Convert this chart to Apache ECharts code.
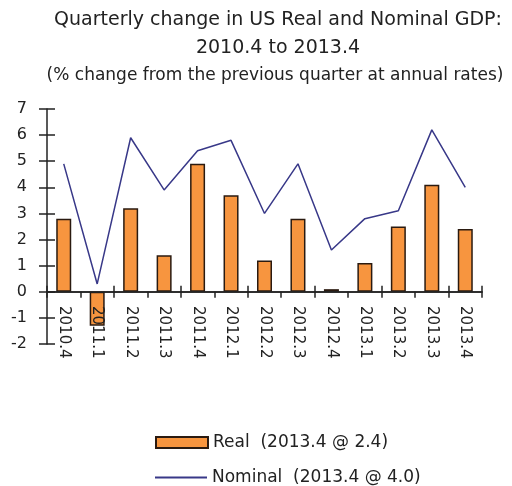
<!DOCTYPE html>
<html>
<head>
<meta charset="utf-8">
<script src="https://cdn.jsdelivr.net/npm/echarts@6/dist/echarts.min.js"></script>
<style>
  html, body { margin: 0; padding: 0; background: #fff; }
  #chart { width: 512px; height: 486px; }
</style>
</head>
<body>
<div id="chart"></div>
<script>
// Quarter labels
const quarters = ['2010.4', '2011.1', '2011.2', '2011.3', '2011.4', '2012.1', '2012.2',
                  '2012.3', '2012.4', '2013.1', '2013.2', '2013.3', '2013.4'];
// Real GDP, % change at annual rate
const realGdp = [2.8, -1.3, 3.2, 1.4, 4.9, 3.7, 1.2, 2.8, 0.1, 1.1, 2.5, 4.1, 2.4];
// Nominal GDP, % change at annual rate
const nominalGdp = [4.9, 0.3, 5.9, 3.9, 5.4, 5.8, 3.0, 4.9, 1.6, 2.8, 3.1, 6.2, 4.0];

const realName = 'Real  (2013.4 @ 2.4)';
const nominalName = 'Nominal  (2013.4 @ 4.0)';

const font = 'DejaVu Sans';
const axisColor = '#222';
const textColor = '#222';
const lineColor = '#383888';

const chart = echarts.init(document.getElementById('chart'), null, { renderer: 'canvas' });

const titleStyle = size => ({ fontFamily: font, fontSize: size, fontWeight: 'normal', color: textColor });

chart.setOption({
  backgroundColor: '#fff',
  animation: false,
  title: [
    { text: 'Quarterly change in US Real and Nominal GDP:', left: 278, top: 11, textAlign: 'center', padding: 0, textStyle: titleStyle(19) },
    { text: '2010.4 to 2013.4', left: 278, top: 39, textAlign: 'center', padding: 0, textStyle: titleStyle(19) },
    { text: '(% change from the previous quarter at annual rates)', left: 275, top: 67, textAlign: 'center', padding: 0, textStyle: titleStyle(17) }
  ],
  legend: [
    {
      left: 155, top: 434, padding: 0,
      itemWidth: 52, itemHeight: 11,
      textStyle: { fontFamily: font, fontSize: 17, color: textColor },
      data: [{ name: realName, icon: 'rect' }]
    },
    {
      left: 155, top: 469, padding: 0,
      itemWidth: 52, itemHeight: 2,
      textStyle: { fontFamily: font, fontSize: 17, color: textColor },
      data: [{ name: nominalName, icon: 'rect', itemStyle: { color: lineColor, borderWidth: 0 } }]
    }
  ],
  grid: { left: 47, right: 30, top: 109, bottom: 142, containLabel: false },
  xAxis: [
    {
      type: 'category', data: quarters, z: 10,
      axisLine: { onZero: true, lineStyle: { color: axisColor, width: 1.5 } },
      axisTick: { show: true, length: 6, lineStyle: { color: axisColor, width: 1.5 } },
      axisLabel: { rotate: -90, margin: -38, fontFamily: font, fontSize: 15, color: textColor },
      splitLine: { show: false }
    },
    {
      type: 'category', data: quarters, position: 'bottom', z: 10,
      axisLine: { onZero: true, lineStyle: { color: axisColor, width: 1.5 } },
      axisTick: { show: true, inside: true, length: 6, lineStyle: { color: axisColor, width: 1.5 } },
      axisLabel: { show: false },
      splitLine: { show: false }
    }
  ],
  yAxis: [
    {
      type: 'value', min: -2, max: 7, interval: 1,
      axisLine: { show: true, onZero: false, lineStyle: { color: axisColor, width: 1.5 } },
      axisTick: { show: true, length: 8, lineStyle: { color: axisColor, width: 1.5 } },
      axisLabel: { margin: 20, fontFamily: font, fontSize: 16, color: textColor },
      splitLine: { show: false }
    },
    {
      type: 'value', min: -2, max: 7, interval: 1, position: 'left',
      axisLine: { show: false, onZero: false },
      axisTick: { show: true, inside: true, length: 8, lineStyle: { color: axisColor, width: 1.5 } },
      axisLabel: { show: false },
      splitLine: { show: false }
    }
  ],
  series: [
    {
      name: realName,
      type: 'bar', data: realGdp, barWidth: 15, z: 1,
      itemStyle: { color: '#F7953F', borderColor: '#2a1a10', borderWidth: 1.5 }
    },
    {
      name: nominalName,
      type: 'line', data: nominalGdp, showSymbol: false, symbol: 'none', z: 3,
      lineStyle: { color: lineColor, width: 1.5 },
      itemStyle: { color: lineColor }
    }
  ]
});
</script>
</body>
</html>
